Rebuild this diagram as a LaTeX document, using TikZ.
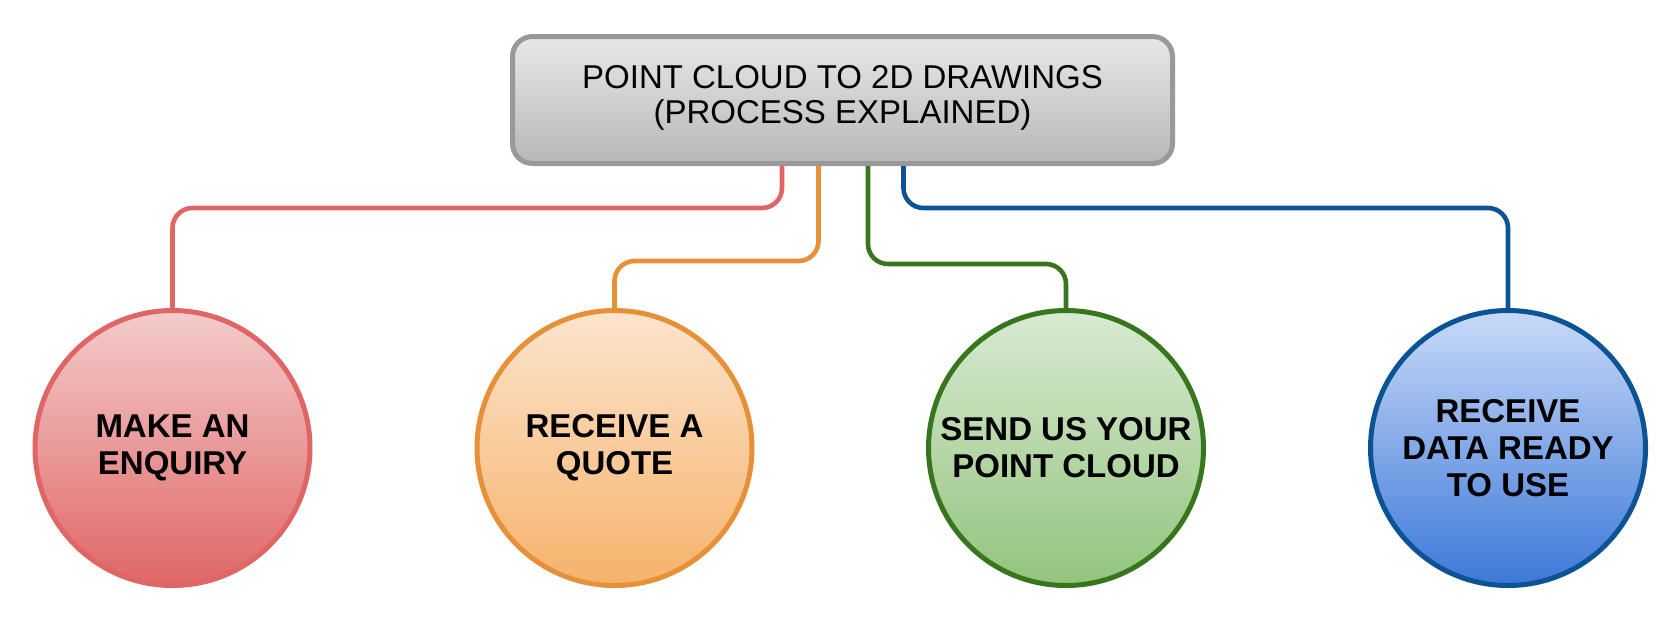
\documentclass[tikz,border=0pt]{standalone}
\usepackage{fontspec}
\setmainfont{Liberation Sans}
\usetikzlibrary{calc}
\definecolor{boxline}{HTML}{999999}
\definecolor{boxtop}{HTML}{E8E8E8}
\definecolor{boxbot}{HTML}{B7B7B7}
\definecolor{redline}{HTML}{E06666}
\definecolor{redtop}{HTML}{F4CCCC}
\definecolor{redbot}{HTML}{E06666}
\definecolor{orline}{HTML}{E69138}
\definecolor{ortop}{HTML}{FCE5CD}
\definecolor{orbot}{HTML}{F6B26B}
\definecolor{grline}{HTML}{38761D}
\definecolor{grtop}{HTML}{D9EAD3}
\definecolor{grbot}{HTML}{93C47D}
\definecolor{blline}{HTML}{0B5394}
\definecolor{bltop}{HTML}{C9DAF8}
\definecolor{blbot}{HTML}{3C78D8}
\begin{document}
\begin{tikzpicture}[x=0.5pt,y=-0.5pt,
  conn/.style={line width=2.3pt, rounded corners=10pt},
  stepcirc/.style={circle, draw, minimum size=137.5pt, inner sep=0pt, line width=2.5pt, align=center,
    font=\fontsize{16.5}{18.5}\selectfont\bfseries},
]
\useasboundingbox (0,0) rectangle (1664,623);

\node[draw=boxline, line width=2.5pt, rounded corners=10pt, top color=boxtop, bottom color=boxbot,
  minimum width=330pt, minimum height=63.5pt, inner sep=0pt] (box) at (842.5,100) {};
\node[font=\fontsize{16.5}{17.5}\selectfont, align=center] (title) at (842.5,98)
  {POINT CLOUD TO 2D DRAWINGS\\(PROCESS EXPLAINED)};

\node[stepcirc, draw=redline, top color=redtop, bottom color=redbot] (c1) at (172.5,448) {MAKE AN\\ENQUIRY};
\node[stepcirc, draw=orline, top color=ortop, bottom color=orbot] (c2) at (614.5,448) {RECEIVE A\\QUOTE};
\node[stepcirc, draw=grline, top color=grtop, bottom color=grbot] (c3) at (1066,448) {SEND US YOUR\\POINT CLOUD};
\node[stepcirc, draw=blline, top color=bltop, bottom color=blbot] (c4) at (1508,448) {RECEIVE\\DATA READY\\TO USE};

\coordinate (h1) at (0,208);
\coordinate (h2) at (0,261);
\coordinate (h3) at (0,264);

\draw[conn, redline] ($(box.south)+(-60.5,0)$) |- (c1.north |- h1) -- (c1.north);
\draw[conn, orline] ($(box.south)+(-24,0)$) |- (c2.north |- h2) -- (c2.north);
\draw[conn, grline] ($(box.south)+(25.5,0)$) |- (c3.north |- h3) -- (c3.north);
\draw[conn, blline] ($(box.south)+(61,0)$) |- (c4.north |- h1) -- (c4.north);
\end{tikzpicture}
\end{document}
